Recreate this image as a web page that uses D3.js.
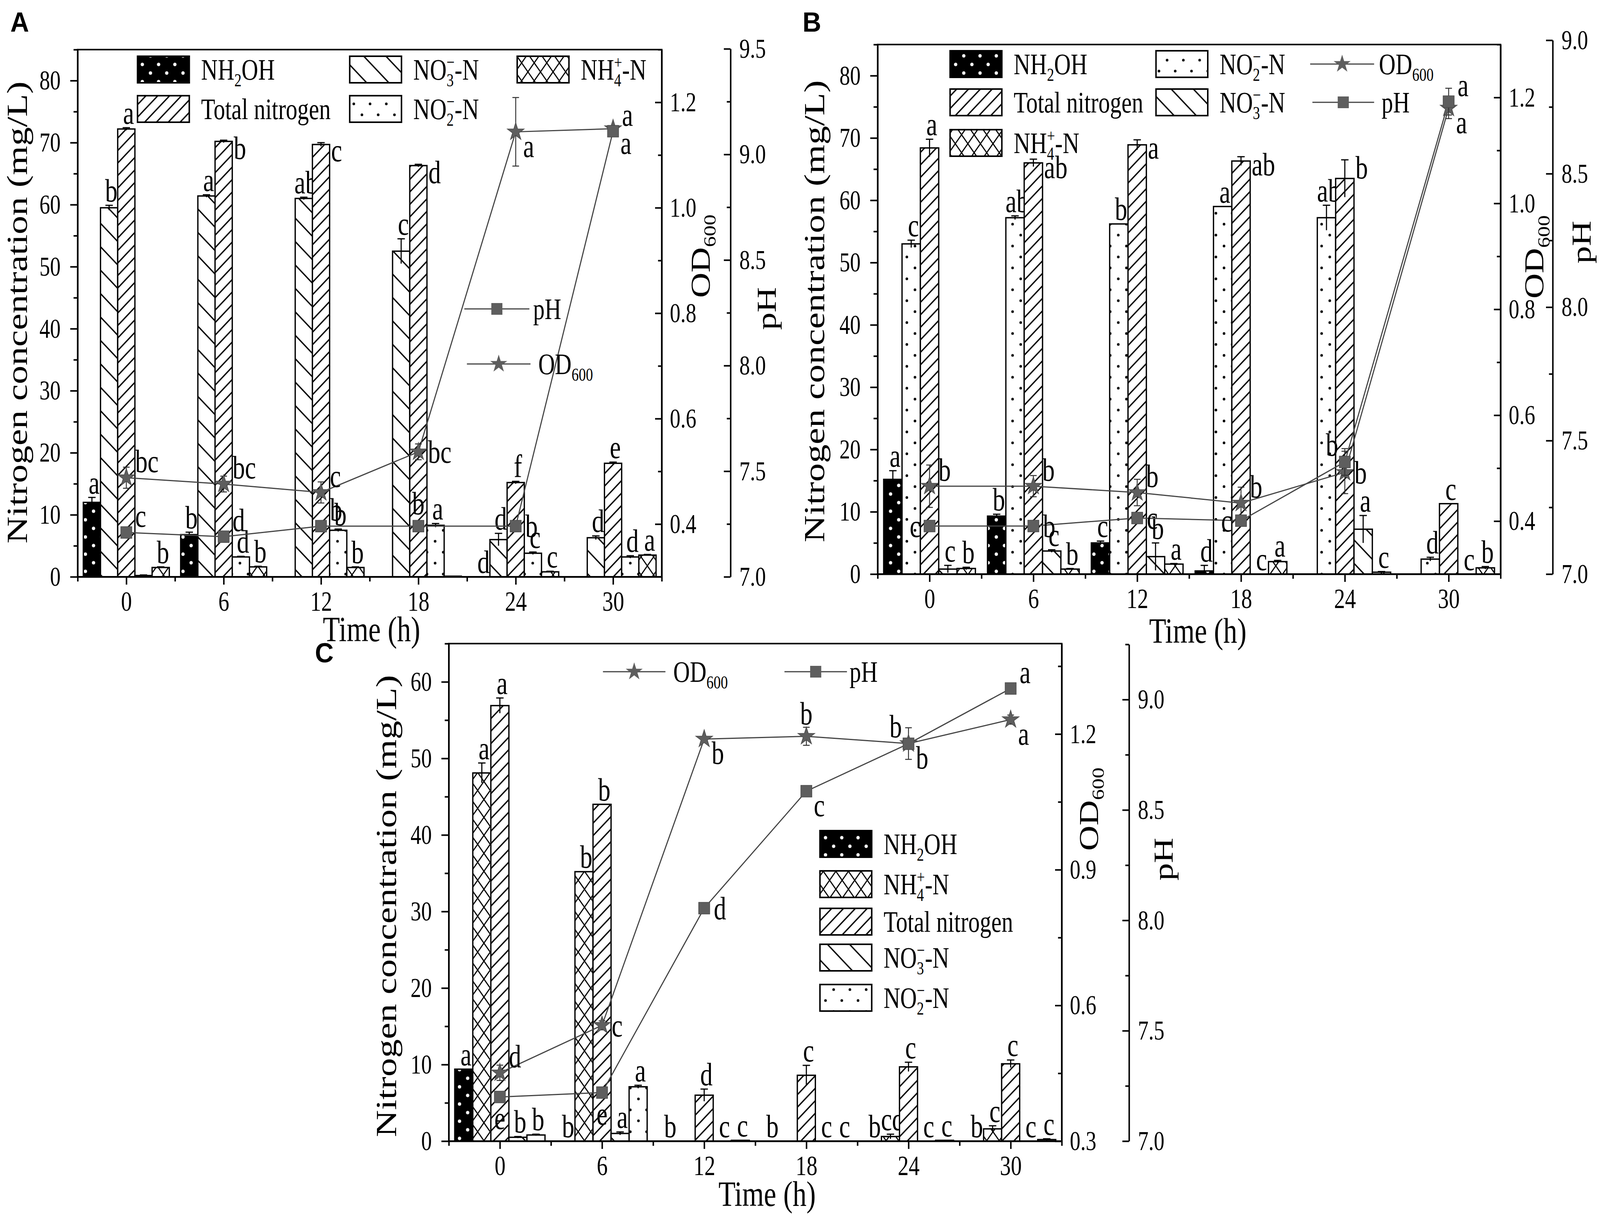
<!DOCTYPE html>
<html>
<head>
<meta charset="utf-8">
<script src="https://cdn.jsdelivr.net/npm/d3@7"></script>
<style>
html,body{margin:0;padding:0;background:#fff;overflow:hidden}
#fig{display:block;width:100vw;height:100vh}
</style>
</head>
<body>
<svg id="fig" viewBox="0 0 4328 3124" preserveAspectRatio="none"></svg>
<script>
// sampling times (h)
var times = [0, 6, 12, 18, 24, 30];

// ---- panel A ----
var aNH2OH = [12.0, 6.8, 0, 0, 0, 0];
var aNH2OHErr = [0.8, 0.4, 0, 0, 0, 0];
var aNH2OHSig = ["a", "b", "", "", "d", ""];
var aNO3 = [59.5, 61.4, 61.0, 52.5, 6.0, 6.3];
var aNO3Err = [0.4, 0.2, 0.2, 2.0, 1.0, 0.3];
var aNO3Sig = ["b", "a", "ab", "c", "d", "d"];
var aTN = [72.2, 70.2, 69.7, 66.3, 15.2, 18.3];
var aTNErr = [0.2, 0.2, 0.3, 0.2, 0.2, 0.2];
var aTNSig = ["a", "b", "c", "d", "f", "e"];
var aNO2 = [0.2, 3.2, 7.5, 8.3, 3.8, 3.2];
var aNO2Err = [0.1, 0.1, 0.2, 0.3, 0.2, 0.2];
var aNO2Sig = ["", "d", "b", "a", "c", "d"];
var aNH4 = [1.5, 1.6, 1.5, 0.1, 0.8, 3.5];
var aNH4Err = [0.1, 0.1, 0.1, 0, 0.1, 0.1];
var aNH4Sig = ["b", "b", "b", "", "c", "a"];
var aOD = [0.488, 0.476, 0.46, 0.537, 1.144, 1.15];
var aODErr = [0.02, 0.015, 0.02, 0.015, 0.065, 0.005];
var aODSig = ["bc", "bc", "c", "bc", "a", "a"];
var aPH = [7.21, 7.19, 7.24, 7.24, 7.24, 9.11];
var aPHErr = [0.01, 0.01, 0.01, 0.01, 0.01, 0.01];
var aPHSig = ["c", "d", "b", "b", "b", "a"];

// ---- panel B ----
var bNH2OH = [15.2, 9.3, 5.0, 0.5, 0, 0];
var bNH2OHErr = [1.4, 0.3, 0.3, 0.9, 0, 0];
var bNH2OHSig = ["a", "b", "c", "d", "", ""];
var bNO2 = [53.0, 57.2, 56.2, 59.0, 57.2, 2.4];
var bNO2Err = [0.6, 0.3, 0, 0, 2.0, 0.3];
var bNO2Sig = ["c", "ab", "b", "a", "ab", "d"];
var bTN = [68.4, 66.0, 68.9, 66.3, 63.5, 11.3];
var bTNErr = [1.4, 0.6, 0.8, 0.7, 3.0, 0];
var bTNSig = ["a", "ab", "a", "ab", "b", "c"];
var bNO3 = [0.8, 3.7, 2.8, 0, 7.2, 0];
var bNO3Err = [0.6, 0.2, 2.2, 0, 2.2, 0];
var bNO3Sig = ["c", "c", "b", "c", "a", "c"];
var bNH4 = [0.9, 0.8, 1.6, 2.0, 0.3, 1.0];
var bNH4Err = [0.2, 0.1, 0.1, 0.2, 0.1, 0.2];
var bNH4Sig = ["b", "b", "a", "a", "c", "b"];
var bOD = [0.466, 0.466, 0.454, 0.434, 0.492, 1.18];
var bODErr = [0.04, 0.02, 0.025, 0.03, 0.04, 0.02];
var bODSig = ["b", "b", "b", "b", "b", "a"];
var bPH = [7.18, 7.18, 7.21, 7.20, 7.42, 8.77];
var bPHErr = [0.02, 0.02, 0.02, 0.02, 0.05, 0.05];
var bPHSig = ["c", "b", "c", "c", "b", "a"];

// ---- panel C ----
var cNH2OH = [9.4, 0, 0, 0, 0, 0];
var cNH2OHErr = [0, 0, 0, 0, 0, 0];
var cNH2OHSig = ["a", "b", "b", "b", "b", "b"];
var cNH4 = [48.1, 35.2, 0, 0, 0.6, 1.6];
var cNH4Err = [1.3, 0, 0, 0, 0.3, 0.4];
var cNH4Sig = ["a", "b", "", "", "cd", "c"];
var cTN = [56.9, 44.0, 6.0, 8.6, 9.7, 10.1];
var cTNErr = [1.0, 0, 0.8, 1.3, 0.6, 0.5];
var cTNSig = ["a", "b", "d", "c", "c", "c"];
var cNO3 = [0.5, 1.0, 0, 0, 0, 0];
var cNO3Err = [0.1, 0.2, 0, 0, 0, 0];
var cNO3Sig = ["b", "a", "c", "c", "c", "c"];
var cNO2 = [0.8, 7.1, 0.1, 0, 0.1, 0.2];
var cNO2Err = [0.1, 0.2, 0, 0, 0, 0.1];
var cNO2Sig = ["b", "a", "c", "c", "c", "c"];
var cOD = [0.451, 0.556, 1.189, 1.195, 1.179, 1.232];
var cODErr = [0.017, 0.01, 0.005, 0.02, 0.035, 0.01];
var cODSig = ["d", "c", "b", "b", "b", "a"];
var cPH = [7.20, 7.22, 8.055, 8.585, 8.80, 9.05];
var cPHErr = [0.01, 0.01, 0.01, 0.01, 0.01, 0.01];
var cPHSig = ["e", "e", "d", "c", "b", "a"];

// where the significance letters sit (t = top, r = right of top; point labels ru/r/rd/l/lu/u/d)
var aTNAt = ["t", "r", "r", "r", "t", "t"];
var bTNAt = ["t", "r", "r", "r", "r", "t"];
var aODAt = ["ru", "ru", "ru", "r", "rd", "rd"];
var aPHAt = ["ru", "ru", "ru", "u", "r", "ru"];
var bODAt = ["ru", "ru", "ru", "ru", "r", "rd"];
var bPHAt = ["l", "r", "r", "l", "lu", "ru"];
var cODAt = ["ru", "r", "rd", "u", "lu", "rd"];
var cPHAt = ["d", "d", "r", "rd", "rd", "ru"];

// legend names (sub / superscripts as tspans)
var names = {
  NH2OH: [["NH"], ["2", "sub"], ["OH"]],
  NO3: [["NO"], ["3", "sub"], ["\u2212", "sup", -0.5], ["-N"]],
  NO2: [["NO"], ["2", "sub"], ["\u2212", "sup", -0.5], ["-N"]],
  NH4: [["NH"], ["4", "sub"], ["+", "sup", -0.5], ["-N"]],
  TN: [["Total nitrogen"]]
};
var fills = {NH2OH: "pNH2OH", NO3: "pNO3", NO2: "pNO2", NH4: "pNH4", TN: "pTN"};

var SQ = 0.82;          // the figure is squeezed horizontally
var FONT = "'Liberation Serif','Times New Roman',serif";
var BW = 1.06;          // bar width in hours

var svg = d3.select("#fig");
svg.append("rect").attr("width", 4328).attr("height", 3124).attr("fill", "#fff");
var defs = svg.append("defs");

function pat(id, w, h, bg, draw) {
  var p = defs.append("pattern").attr("id", id)
    .attr("patternUnits", "userSpaceOnUse").attr("width", w).attr("height", h);
  p.append("rect").attr("width", w).attr("height", h).attr("fill", bg);
  draw(p);
}
pat("pNH2OH", 44, 44, "#000", function(p) {
  [[11, 11], [33, 33]].forEach(function(c) {
    p.append("circle").attr("cx", c[0]).attr("cy", c[1]).attr("r", 4.5).attr("fill", "#fff");
  });
});
pat("pNO3", 60, 60, "#fff", function(p) {
  p.append("path").attr("d", "M0,0L60,60M-15,45L15,75M45,-15L75,15")
    .attr("stroke", "#000").attr("stroke-width", 3.5);
});
pat("pTN", 32, 32, "#fff", function(p) {
  p.append("path").attr("d", "M0,32L32,0M-8,8L8,-8M24,40L40,24")
    .attr("stroke", "#000").attr("stroke-width", 3.5);
});
pat("pNO2", 44, 56, "#fff", function(p) {
  [[11, 14], [33, 42]].forEach(function(c) {
    p.append("circle").attr("cx", c[0]).attr("cy", c[1]).attr("r", 3.5).attr("fill", "#000");
  });
});
pat("pNH4", 34, 46, "#fff", function(p) {
  p.append("path").attr("d", "M0,0L34,46M34,0L0,46")
    .attr("stroke", "#000").attr("stroke-width", 3);
});

// text with sub/superscripts, squeezed like the original
function rich(parent, x, y, parts, size, anchor, rotate) {
  var tr = rotate ? "translate(" + x + "," + y + ") rotate(-90) scale(1," + SQ + ")"
                  : "translate(" + x + "," + y + ") scale(" + SQ + ",1)";
  var t = parent.append("text").attr("transform", tr)
    .attr("font-family", FONT).attr("font-size", size)
    .attr("text-anchor", anchor || "start").attr("fill", "#000");
  var cur = 0;
  parts.forEach(function(p) {
    var kind = p[1] || "n";
    var fs = kind === "n" ? size : size * 0.62;
    var off = kind === "sub" ? size * 0.22 : kind === "sup" ? -size * 0.38 : 0;
    var ts = t.append("tspan").attr("font-size", fs).attr("dy", off - cur).text(p[0]);
    if (p[2]) ts.attr("dx", p[2] * fs);
    cur = off;
  });
  return t;
}
function txt(parent, x, y, s, size, anchor) {
  return rich(parent, x, y, [[s]], size, anchor, false);
}

function styleAxis(g, size) {
  g.attr("font-family", FONT).attr("font-size", size);
  g.selectAll("line").attr("stroke-width", 4);
  g.selectAll("path").attr("stroke-width", 4);
  g.selectAll("text").each(function() {
    var s = d3.select(this);
    var x = +s.attr("x") || 0;
    s.attr("x", x / SQ).attr("transform", "scale(" + SQ + ",1)");
  });
}
function minor(g, axis) {
  var m = g.append("g").call(axis.tickFormat(""));
  m.select(".domain").remove();
  m.selectAll("line").attr("stroke-width", 4);
}

var star = d3.symbol().type(d3.symbolStar).size(650);
var square = d3.symbol().type(d3.symbolSquare).size(900);
var pointOffset = {
  ru: [24, -14, "start"], r: [26, 28, "start"], rd: [20, 64, "start"],
  l: [-24, 28, "end"], lu: [-18, -16, "end"], u: [0, -30, "middle"], d: [0, 82, "middle"]
};

function panel(c) {
  var g = svg.append("g");
  var x = d3.scaleLinear().domain([-3, 33]).range([c.x0, c.x1]);
  var yN = d3.scaleLinear().domain([0, c.nMax]).range([c.y1, c.y0]);
  var yOD = d3.scaleLinear().domain(c.odDom).range([c.y1, c.y0]);
  var yPH = d3.scaleLinear().domain(c.phDom).range(c.phRange);
  var bw = x(BW) - x(0);

  // bars
  c.bars.forEach(function(s, i) {
    var slot = i - 2;
    var bg = g.append("g");
    times.forEach(function(t, j) {
      var cx = x(t + slot * BW);
      var v = s.v[j], e = s.e[j];
      bg.append("rect")
        .attr("x", cx - bw / 2).attr("y", yN(v))
        .attr("width", bw).attr("height", yN(0) - yN(v))
        .attr("fill", "url(#" + fills[s.key] + ")")
        .attr("stroke", "#000").attr("stroke-width", 3.5);
      if (e > 0) {
        bg.append("path")
          .attr("d", "M" + cx + "," + yN(Math.max(0, v - e)) + "V" + yN(v + e) +
                     "M" + (cx - 10) + "," + yN(v + e) + "H" + (cx + 10))
          .attr("stroke", "#000").attr("stroke-width", 3).attr("fill", "none");
      }
      if (s.s[j]) {
        var at = s.at ? s.at[j] : "t";
        if (at === "r") txt(g, cx + bw / 2 + 4, yN(v + e) + 48, s.s[j], 82, "start");
        else txt(g, cx + 6, yN(v + e) - 10, s.s[j], 82, "middle");
      }
    });
  });

  // axes
  var gl = g.append("g").attr("transform", "translate(" + c.x0 + ",0)");
  gl.call(d3.axisLeft(yN).tickValues(c.nTicks).tickSize(20).tickPadding(26).tickSizeOuter(0).tickFormat(d3.format("d")));
  minor(gl, d3.axisLeft(yN).tickValues(c.nMinor).tickSize(11));
  styleAxis(gl, 70);

  var gb = g.append("g").attr("transform", "translate(0," + c.y1 + ")");
  gb.call(d3.axisBottom(x).tickValues(times).tickSize(20).tickPadding(16).tickSizeOuter(0));
  minor(gb, d3.axisBottom(x).tickValues([-3, 3, 9, 15, 21, 27, 33]).tickSize(12));
  styleAxis(gb, 72);

  var gr = g.append("g").attr("transform", "translate(" + c.x1 + ",0)");
  gr.call(d3.axisRight(yOD).tickValues(c.odTicks).tickSize(-18).tickPadding(22).tickSizeOuter(0).tickFormat(d3.format(".1f")));
  minor(gr, d3.axisRight(yOD).tickValues(c.odMinor).tickSize(-10));
  styleAxis(gr, 70);

  var gp = g.append("g").attr("transform", "translate(" + c.phX + ",0)");
  gp.call(d3.axisRight(yPH).tickValues(c.phTicks).tickSize(-18).tickPadding(24).tickSizeOuter(0).tickFormat(d3.format(".1f")));
  minor(gp, d3.axisRight(yPH).tickValues(c.phMinor).tickSize(-10));
  styleAxis(gp, 70);

  g.append("rect").attr("x", c.x0).attr("y", c.y0)
    .attr("width", c.x1 - c.x0).attr("height", c.y1 - c.y0)
    .attr("fill", "none").attr("stroke", "#000").attr("stroke-width", 4);

  // OD600 and pH lines
  var lines = [
    {d: c.od, y: yOD, sym: star},
    {d: c.ph, y: yPH, sym: square}
  ];
  lines.forEach(function(L) {
    g.append("path")
      .attr("d", d3.line().x(function(t) { return x(t); })
                          .y(function(t, j) { return L.y(L.d.v[j]); })(times))
      .attr("fill", "none").attr("stroke", "#444").attr("stroke-width", 3);
  });
  lines.forEach(function(L) {
    times.forEach(function(t, j) {
      var px = x(t), v = L.d.v[j], e = L.d.e[j];
      if (e > 0.004) {
        g.append("path")
          .attr("d", "M" + px + "," + L.y(v - e) + "V" + L.y(v + e) +
                     "M" + (px - 9) + "," + L.y(v - e) + "H" + (px + 9) +
                     "M" + (px - 9) + "," + L.y(v + e) + "H" + (px + 9))
          .attr("stroke", "#333").attr("stroke-width", 2.5).attr("fill", "none");
      }
      g.append("path").attr("d", L.sym())
        .attr("transform", "translate(" + px + "," + L.y(v) + ")")
        .attr("fill", "#5e5e5e").attr("stroke", "#4a4a4a").attr("stroke-width", 1.5);
      if (L.d.s[j]) {
        var o = pointOffset[L.d.at[j]];
        txt(g, px + o[0], L.y(v) + o[1], L.d.s[j], 82, o[2]);
      }
    });
  });

  // bar legend
  c.legend.forEach(function(it) {
    g.append("rect").attr("x", it.x).attr("y", it.y - 34)
      .attr("width", 140).attr("height", 68)
      .attr("fill", "url(#" + fills[it.key] + ")")
      .attr("stroke", "#000").attr("stroke-width", 4);
    rich(g, it.x + 172, it.y + 26, names[it.key], 76, "start");
  });
  // line legend
  c.lineLegend.forEach(function(it) {
    g.append("path").attr("d", "M" + it.x1 + "," + it.y + "H" + it.x2)
      .attr("stroke", "#444").attr("stroke-width", 3);
    g.append("path").attr("d", (it.od ? star : square)())
      .attr("transform", "translate(" + ((it.x1 + it.x2) / 2) + "," + it.y + ")")
      .attr("fill", "#5e5e5e");
    rich(g, it.tx, it.y + 26, it.od ? [["OD"], ["600", "sub"]] : [["pH"]], 76, "start");
  });

  // titles
  rich(g, c.yTitle[0], c.yTitle[1], [["Nitrogen concentration (mg/L)"]], 96, "middle", true);
  txt(g, c.xTitle[0], c.xTitle[1], "Time (h)", 92, "middle");
  rich(g, c.odTitle[0], c.odTitle[1], [["OD"], ["600", "sub"]], 90, "middle", true);
  rich(g, c.phTitle[0], c.phTitle[1], [["pH"]], 90, "middle", true);
  g.append("text").attr("x", c.tag[0]).attr("y", c.tag[1])
    .attr("font-family", "'Liberation Sans',Arial,sans-serif").attr("font-weight", "bold")
    .attr("font-size", 70).text(c.tag[2]);
}

panel({
  x0: 210, x1: 1790, y0: 127, y1: 1477,
  nMax: 85, nTicks: d3.range(0, 81, 10), nMinor: d3.range(5, 86, 10),
  odDom: [0.3, 1.3], odTicks: [0.4, 0.6, 0.8, 1.0, 1.2], odMinor: [0.5, 0.7, 0.9, 1.1, 1.3],
  phX: 1976, phDom: [7, 9.5], phRange: [1477, 125],
  phTicks: [7, 7.5, 8, 8.5, 9, 9.5], phMinor: [7.25, 7.75, 8.25, 8.75, 9.25],
  bars: [
    {key: "NH2OH", v: aNH2OH, e: aNH2OHErr, s: aNH2OHSig},
    {key: "NO3", v: aNO3, e: aNO3Err, s: aNO3Sig},
    {key: "TN", v: aTN, e: aTNErr, s: aTNSig, at: aTNAt},
    {key: "NO2", v: aNO2, e: aNO2Err, s: aNO2Sig},
    {key: "NH4", v: aNH4, e: aNH4Err, s: aNH4Sig}
  ],
  od: {v: aOD, e: aODErr, s: aODSig, at: aODAt},
  ph: {v: aPH, e: aPHErr, s: aPHSig, at: aPHAt},
  legend: [
    {key: "NH2OH", x: 372, y: 178}, {key: "NO3", x: 946, y: 178}, {key: "NH4", x: 1399, y: 178},
    {key: "TN", x: 372, y: 279}, {key: "NO2", x: 946, y: 279}
  ],
  lineLegend: [
    {od: false, x1: 1256, x2: 1432, y: 791, tx: 1442},
    {od: true, x1: 1263, x2: 1435, y: 932, tx: 1456}
  ],
  yTitle: [73, 800], xTitle: [1005, 1642], odTitle: [1920, 656], phTitle: [2098, 790],
  tag: [28, 81, "A"]
});

panel({
  x0: 2374, x1: 4059, y0: 114, y1: 1470,
  nMax: 85, nTicks: d3.range(0, 81, 10), nMinor: d3.range(5, 86, 10),
  odDom: [0.3, 1.3], odTicks: [0.4, 0.6, 0.8, 1.0, 1.2], odMinor: [0.5, 0.7, 0.9, 1.1, 1.3],
  phX: 4200, phDom: [7, 9], phRange: [1470, 103],
  phTicks: [7, 7.5, 8, 8.5, 9], phMinor: [7.25, 7.75, 8.25, 8.75],
  bars: [
    {key: "NH2OH", v: bNH2OH, e: bNH2OHErr, s: bNH2OHSig},
    {key: "NO2", v: bNO2, e: bNO2Err, s: bNO2Sig},
    {key: "TN", v: bTN, e: bTNErr, s: bTNSig, at: bTNAt},
    {key: "NO3", v: bNO3, e: bNO3Err, s: bNO3Sig},
    {key: "NH4", v: bNH4, e: bNH4Err, s: bNH4Sig}
  ],
  od: {v: bOD, e: bODErr, s: bODSig, at: bODAt},
  ph: {v: bPH, e: bPHErr, s: bPHSig, at: bPHAt},
  legend: [
    {key: "NH2OH", x: 2570, y: 164}, {key: "NO2", x: 3127, y: 164},
    {key: "TN", x: 2570, y: 262}, {key: "NO3", x: 3127, y: 262},
    {key: "NH4", x: 2570, y: 366}
  ],
  lineLegend: [
    {od: true, x1: 3544, x2: 3717, y: 164, tx: 3730},
    {od: false, x1: 3550, x2: 3717, y: 262, tx: 3737}
  ],
  yTitle: [2230, 797], xTitle: [3240, 1646], odTitle: [4175, 658], phTitle: [4303, 620],
  tag: [2171, 81, "B"]
});

panel({
  x0: 1214, x1: 2872, y0: 1648, y1: 2922,
  nMax: 65, nTicks: d3.range(0, 61, 10), nMinor: d3.range(5, 66, 10),
  odDom: [0.3, 1.4], odTicks: [0.3, 0.6, 0.9, 1.2], odMinor: [0.45, 0.75, 1.05, 1.35],
  phX: 3054, phDom: [7, 9.25], phRange: [2922, 1650],
  phTicks: [7, 7.5, 8, 8.5, 9], phMinor: [7.25, 7.75, 8.25, 8.75, 9.25],
  bars: [
    {key: "NH2OH", v: cNH2OH, e: cNH2OHErr, s: cNH2OHSig},
    {key: "NH4", v: cNH4, e: cNH4Err, s: cNH4Sig},
    {key: "TN", v: cTN, e: cTNErr, s: cTNSig},
    {key: "NO3", v: cNO3, e: cNO3Err, s: cNO3Sig},
    {key: "NO2", v: cNO2, e: cNO2Err, s: cNO2Sig}
  ],
  od: {v: cOD, e: cODErr, s: cODSig, at: cODAt},
  ph: {v: cPH, e: cPHErr, s: cPHSig, at: cPHAt},
  legend: [
    {key: "NH2OH", x: 2218, y: 2161}, {key: "NH4", x: 2218, y: 2264},
    {key: "TN", x: 2218, y: 2360}, {key: "NO3", x: 2218, y: 2452},
    {key: "NO2", x: 2218, y: 2555}
  ],
  lineLegend: [
    {od: true, x1: 1631, x2: 1800, y: 1720, tx: 1821},
    {od: false, x1: 2122, x2: 2291, y: 1720, tx: 2298}
  ],
  yTitle: [1071, 2320], xTitle: [2075, 3088], odTitle: [2970, 2072], phTitle: [3172, 2200],
  tag: [852, 1696, "C"]
});
</script>
</body>
</html>
